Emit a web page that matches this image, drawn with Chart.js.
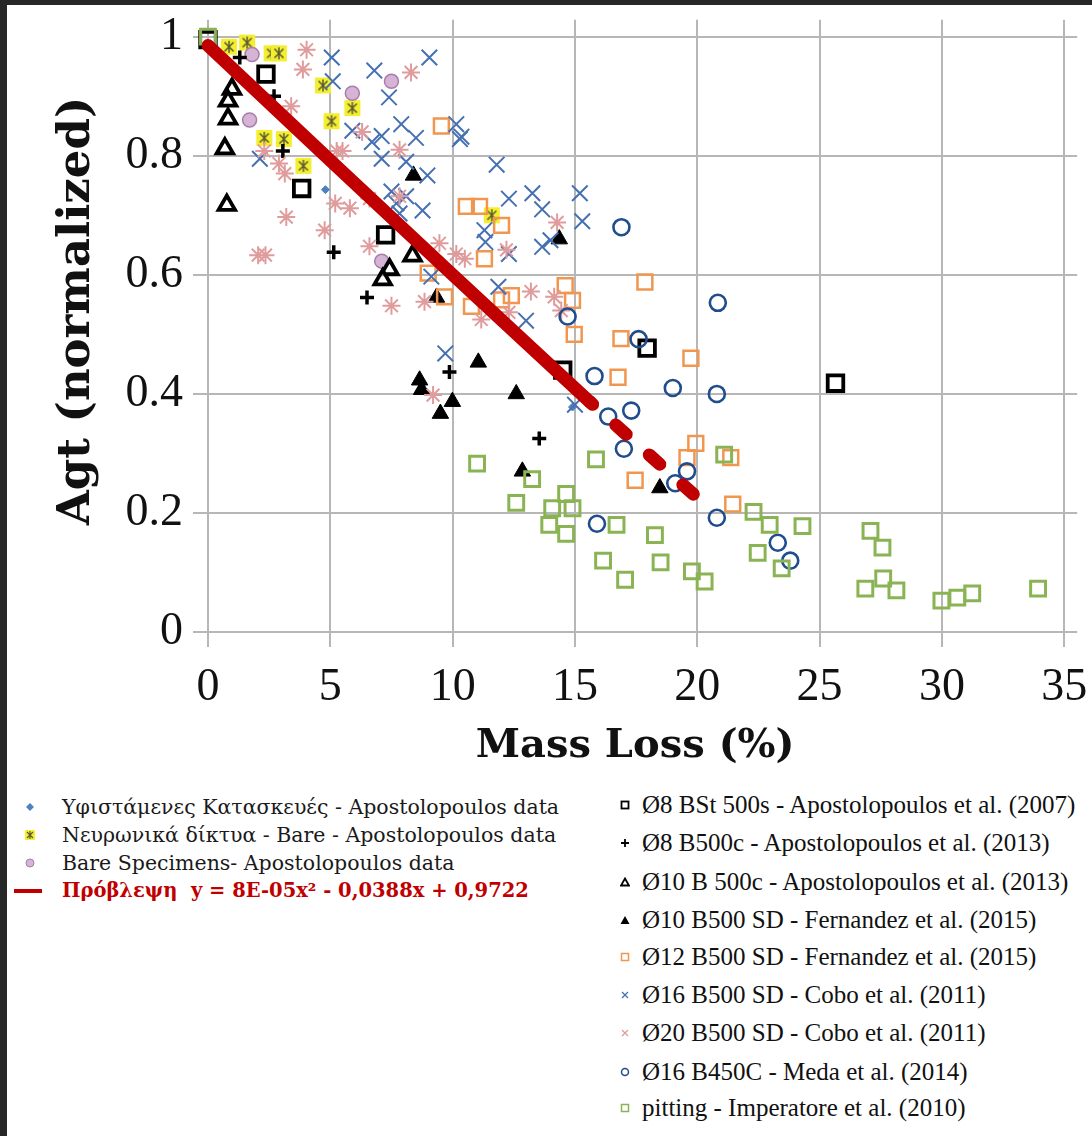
<!DOCTYPE html>
<html><head><meta charset="utf-8">
<script src="https://cdn.jsdelivr.net/npm/chart.js@4.4.1/dist/chart.umd.min.js"></script>
<style>
html,body{margin:0;padding:0;background:#272727;width:1092px;height:1136px;overflow:hidden}
#page{position:absolute;left:7px;top:5px;width:1085px;height:1131px;background:#fff}
#c{position:absolute;left:0;top:0}
.row{position:absolute;white-space:pre;height:30px;line-height:30px}
.row canvas{position:absolute;top:0}
.lt{position:absolute;top:0;white-space:pre}
.left .lt{font-family:"DejaVu Serif";font-size:20.5px;color:#1a1a1a}
.right .lt{font-family:"Liberation Serif";font-size:25px;color:#111}
.red .lt{font-family:"DejaVu Serif";font-weight:bold;font-size:19.5px;color:#c00000}
</style></head>
<body><div id="page"><canvas id="c" width="1085" height="775" style="width:1085px;height:775px"></canvas><div id="legend"></div></div>
<script>
// ---------- tick labels / titles ----------
const xTicks = [0, 5, 10, 15, 20, 25, 30, 35];
const yTicks = [0, 0.2, 0.4, 0.6, 0.8, 1];
const xTitle = 'Mass Loss (%)';
const yTitle = 'Agt (normalized)';

// ---------- series ----------
const existingX = [4.8, 14.9];
const existingY = [0.743, 0.378];

const neuralX = [0.86, 1.6, 2.6, 2.9, 4.7, 5.9, 5.05, 2.3, 3.1, 3.9, 11.6];
const neuralY = [0.983, 0.99, 0.972, 0.972, 0.918, 0.88, 0.858, 0.83, 0.828, 0.783, 0.70];

const bareX = [1.8, 7.5, 5.9, 1.7, 7.1];
const bareY = [0.97, 0.925, 0.905, 0.86, 0.623];

const fitX = [0, 5, 10, 15.6];
const fitY = [0.985, 0.792, 0.600, 0.387];
const fitDashX = [15.6, 20.1];
const fitDashY = [0.387, 0.222];

const bst2007X = [0, 2.37, 3.83, 7.26, 14.5, 17.95, 25.65];
const bst2007Y = [0.995, 0.937, 0.745, 0.667, 0.44, 0.477, 0.418];

const b8c2013X = [1.3, 2.7, 3.06, 5.14, 6.5, 9.87, 13.54];
const b8c2013Y = [0.965, 0.9, 0.808, 0.638, 0.562, 0.437, 0.325];

const b10c2013X = [0.98, 0.82, 0.82, 0.69, 0.77, 8.36, 7.42, 7.14];
const b10c2013Y = [0.912, 0.892, 0.862, 0.812, 0.717, 0.632, 0.609, 0.592];

const sd10X = [8.4, 14.36, 9.34, 11.05, 8.65, 8.73, 9.99, 9.5, 12.6, 12.85, 18.47];
const sd10Y = [0.767, 0.66, 0.562, 0.453, 0.423, 0.407, 0.387, 0.367, 0.40, 0.27, 0.242];

const sd12X = [9.54, 10.56, 11.1, 12.0, 11.3, 9.0, 9.67, 10.77, 12.0, 12.4, 14.6, 14.9, 14.97, 17.86, 16.88, 16.76, 19.74, 19.94, 19.58, 17.46, 21.37, 21.45];
const sd12Y = [0.85, 0.715, 0.715, 0.683, 0.627, 0.603, 0.563, 0.547, 0.558, 0.565, 0.582, 0.557, 0.50, 0.588, 0.493, 0.428, 0.46, 0.317, 0.293, 0.255, 0.293, 0.215];

const cobo16X = [5.06, 9.05, 6.8, 5.1, 7.4, 7.9, 5.9, 7.1, 8.5, 6.7, 10.15, 10.36, 7.1, 8.1, 2.12, 8.97, 7.5, 8.1, 8.77, 7.83, 7.7, 11.3, 11.34, 10.3, 11.8, 12.3, 13.26, 13.66, 15.2, 15.3, 14.0, 13.66, 12.3, 9.13, 11.87, 13.0, 9.7, 15.0];
const cobo16Y = [0.965, 0.965, 0.943, 0.925, 0.898, 0.853, 0.842, 0.833, 0.83, 0.823, 0.853, 0.832, 0.795, 0.79, 0.795, 0.767, 0.74, 0.732, 0.708, 0.703, 0.72, 0.675, 0.655, 0.828, 0.785, 0.728, 0.737, 0.71, 0.737, 0.69, 0.658, 0.647, 0.635, 0.597, 0.58, 0.523, 0.468, 0.382];

const cobo20X = [4.03, 3.88, 8.3, 3.4, 6.3, 5.26, 5.5, 7.83, 2.3, 2.9, 3.14, 6.6, 5.2, 5.8, 7.83, 3.2, 4.77, 6.6, 2.05, 2.35, 9.46, 10.15, 10.5, 14.27, 12.2, 8.85, 11.17, 12.3, 13.2, 14.15, 14.44, 9.2, 7.5];
const cobo20Y = [0.978, 0.945, 0.94, 0.883, 0.84, 0.808, 0.808, 0.81, 0.808, 0.787, 0.77, 0.728, 0.72, 0.712, 0.732, 0.697, 0.675, 0.648, 0.633, 0.633, 0.653, 0.635, 0.627, 0.688, 0.642, 0.555, 0.525, 0.537, 0.572, 0.563, 0.54, 0.398, 0.548];

const medaX = [16.9, 14.7, 17.6, 15.8, 19.0, 16.36, 17.3, 20.84, 20.8, 17.0, 19.58, 19.1, 15.9, 20.8, 23.29, 23.8];
const medaY = [0.68, 0.53, 0.492, 0.43, 0.41, 0.362, 0.372, 0.553, 0.40, 0.308, 0.27, 0.25, 0.182, 0.192, 0.15, 0.12];

const pittingX = [0, 11.0, 15.86, 13.25, 12.6, 14.64, 14.07, 14.9, 13.95, 14.64, 16.7, 18.27, 16.15, 18.5, 17.05, 19.78, 20.3, 21.1, 22.3, 22.96, 24.3, 22.47, 23.45, 27.08, 27.57, 26.87, 27.6, 28.14, 29.98, 30.63, 31.24, 33.93];
const pittingY = [1.0, 0.283, 0.29, 0.257, 0.217, 0.232, 0.208, 0.208, 0.18, 0.165, 0.18, 0.163, 0.12, 0.117, 0.088, 0.102, 0.085, 0.298, 0.202, 0.18, 0.178, 0.133, 0.107, 0.17, 0.142, 0.073, 0.09, 0.07, 0.053, 0.058, 0.065, 0.073];

const legendLeft = [
  'Υφιστάμενες Κατασκευές - Apostolopoulos data',
  'Νευρωνικά δίκτυα - Bare - Apostolopoulos data',
  'Bare Specimens- Apostolopoulos data'
];
const legendFit = 'Πρόβλεψη  y = 8E-05x² - 0,0388x + 0,9722';
const legendRight = [
  'Ø8 BSt 500s - Apostolopoulos et al. (2007)',
  'Ø8 B500c - Apostolopoulos et al. (2013)',
  'Ø10 B 500c - Apostolopoulos et al. (2013)',
  'Ø10 B500 SD - Fernandez et al. (2015)',
  'Ø12 B500 SD - Fernandez et al. (2015)',
  'Ø16 B500 SD - Cobo et al. (2011)',
  'Ø20 B500 SD - Cobo et al. (2011)',
  'Ø16 B450C - Meda et al. (2014)',
  'pitting - Imperatore et al. (2010)'
];

// ---------- helpers ----------
const zip = (xs, ys) => xs.map((x, i) => ({x: x, y: ys[i]}));
function mk(w, h, draw) { const c = document.createElement('canvas'); c.width = w; c.height = h; draw(c.getContext('2d'), w, h); return c; }

const YELLOW = '#f3ee2e', BLUE_X = '#4570b2', PINK = '#e09c9c', ORANGE = '#f1964f', NAVY = '#1f4d8e', GREEN = '#8ab453', RED = '#c00000', GRID = '#b7b7b7';

const neuralImg = mk(18, 18, (g) => {
  g.fillStyle = YELLOW; g.fillRect(1, 1, 16, 16);
  g.strokeStyle = '#5b5a35'; g.lineWidth = 1.5; g.beginPath();
  g.moveTo(9, 3); g.lineTo(9, 15); g.moveTo(4.5, 4.5); g.lineTo(13.5, 13.5); g.moveTo(13.5, 4.5); g.lineTo(4.5, 13.5); g.stroke();
});

function sc(label, xs, ys, st, order) {
  return Object.assign({label: label, data: zip(xs, ys), showLine: false, order: order, pointHoverRadius: 0}, st);
}

const datasets = [
  {label: 'fit', data: zip(fitX, fitY), showLine: true, borderColor: RED, borderWidth: 13, borderCapStyle: 'round', pointRadius: 0, order: 0, fill: false},
  {label: 'fitDash', data: zip(fitDashX, fitDashY), showLine: true, borderColor: RED, borderWidth: 13, borderCapStyle: 'round', borderDash: [14, 31], borderDashOffset: 10, pointRadius: 0, order: 0, fill: false},
  sc('pitting', pittingX, pittingY, {pointStyle: 'rect', pointRadius: 10.5, pointBorderWidth: 3, pointBorderColor: GREEN, pointBackgroundColor: 'rgba(0,0,0,0)'}, 1),
  sc('meda', medaX, medaY, {pointStyle: 'circle', pointRadius: 8, pointBorderWidth: 2.6, pointBorderColor: NAVY, pointBackgroundColor: 'rgba(0,0,0,0)'}, 2),
  sc('cobo20', cobo20X, cobo20Y, {pointStyle: 'star', pointRadius: 9, pointBorderWidth: 2, pointBorderColor: PINK, pointBackgroundColor: PINK}, 3),
  sc('cobo16', cobo16X, cobo16Y, {pointStyle: 'crossRot', pointRadius: 11, pointBorderWidth: 2, pointBorderColor: BLUE_X, pointBackgroundColor: BLUE_X}, 4),
  sc('sd12', sd12X, sd12Y, {pointStyle: 'rect', pointRadius: 10.5, pointBorderWidth: 2.5, pointBorderColor: ORANGE, pointBackgroundColor: 'rgba(0,0,0,0)'}, 5),
  sc('sd10', sd10X, sd10Y, {pointStyle: 'triangle', pointRadius: 9.5, pointBorderWidth: 1, pointBorderColor: '#000', pointBackgroundColor: '#000'}, 6),
  sc('b10c', b10c2013X, b10c2013Y, {pointStyle: 'triangle', pointRadius: 9.5, pointBorderWidth: 3.8, pointBorderColor: '#000', pointBackgroundColor: 'rgba(255,255,255,0.6)'}, 7),
  sc('b8c', b8c2013X, b8c2013Y, {pointStyle: 'cross', pointRadius: 7, pointBorderWidth: 3.5, pointBorderColor: '#000', pointBackgroundColor: '#000'}, 8),
  sc('bst', bst2007X, bst2007Y, {pointStyle: 'rect', pointRadius: 11, pointBorderWidth: 3.8, pointBorderColor: '#000', pointBackgroundColor: 'rgba(0,0,0,0)'}, 9),
  sc('bare', bareX, bareY, {pointStyle: 'circle', pointRadius: 7, pointBorderWidth: 1.5, pointBorderColor: '#a97ca9', pointBackgroundColor: '#d6b4d6'}, 10),
  sc('neural', neuralX, neuralY, {pointStyle: neuralImg, pointRadius: 9}, 11),
  sc('existing', existingX, existingY, {pointStyle: 'rectRot', pointRadius: 4, pointBorderWidth: 1, pointBorderColor: '#4f81bd', pointBackgroundColor: '#4f81bd'}, 12)
];

const zeroPad = (s) => { s.paddingLeft = 0; s.paddingRight = 0; s.paddingTop = 0; s.paddingBottom = 0; };

// y-axis title drawn at the reference position
const yTitlePlugin = {
  id: 'yTitle',
  afterDraw(chart) {
    const g = chart.ctx; g.save();
    g.translate(70, 306); g.rotate(-Math.PI / 2);
    g.font = 'bold 45px "DejaVu Serif"'; g.fillStyle = '#111'; g.textAlign = 'center'; g.textBaseline = 'middle';
    g.fillText(yTitle, 0, 0); g.restore();
  }
};

new Chart(document.getElementById('c'), {
  type: 'scatter',
  data: {datasets: datasets},
  plugins: [yTitlePlugin],
  options: {
    responsive: false, animation: false, devicePixelRatio: 1,
    layout: {padding: {left: 0, top: 10, right: 14, bottom: 0}},
    plugins: {legend: {display: false}, tooltip: {enabled: false}},
    events: [],
    scales: {
      x: {
        type: 'linear', min: -0.6127, max: 35.53,
        afterBuildTicks: (s) => { s.ticks = xTicks.map(v => ({value: v})); },
        afterFit: (s) => { s.height = 133; zeroPad(s); },
        grid: {color: GRID, lineWidth: 2, drawTicks: false},
        border: {display: false},
        ticks: {font: {family: 'Liberation Serif', size: 46}, color: '#111', padding: 13, autoSkip: false, maxRotation: 0, callback: (v) => String(v)},
        title: {display: true, text: xTitle, font: {family: 'DejaVu Serif', weight: 'bold', size: 40}, color: '#111', padding: {top: 0, bottom: 9}}
      },
      y: {
        type: 'linear', min: -0.025, max: 1.0283,
        afterBuildTicks: (s) => { s.ticks = yTicks.map(v => ({value: v})); },
        afterFit: (s) => { s.width = 186; zeroPad(s); },
        grid: {color: GRID, lineWidth: 2, drawTicks: false},
        border: {display: false},
        ticks: {font: {family: 'Liberation Serif', size: 46}, color: '#111', padding: 10, autoSkip: false, callback: (v) => String(v)},
        title: {display: false, text: yTitle}
      }
    }
  }
});

// ---------- HTML legend ----------
const lg = document.getElementById('legend');
function row(cls, cy, mx, tx, text, drawMarker, mw, mh) {
  const d = document.createElement('div'); d.className = 'row ' + cls; d.style.left = '0px'; d.style.top = (cy - 5 - 15) + 'px';
  const c = mk(mw, mh, drawMarker); c.style.left = (mx - 7 - mw / 2) + 'px'; c.style.top = (15 - mh / 2) + 'px';
  const s = document.createElement('span'); s.className = 'lt'; s.textContent = text; s.style.left = (tx - 7) + 'px';
  d.appendChild(c); d.appendChild(s); lg.appendChild(d);
}
// left column
row('left', 807, 30, 62, legendLeft[0], (g) => { g.fillStyle = '#4f81bd'; g.beginPath(); g.moveTo(5, 1); g.lineTo(9, 5); g.lineTo(5, 9); g.lineTo(1, 5); g.closePath(); g.fill(); }, 10, 10);
row('left', 835, 30, 62, legendLeft[1], (g) => { g.fillStyle = YELLOW; g.fillRect(0, 0, 10, 10); g.strokeStyle = '#5b5a35'; g.lineWidth = 1.2; g.beginPath(); g.moveTo(5, 1); g.lineTo(5, 9); g.moveTo(2, 2); g.lineTo(8, 8); g.moveTo(8, 2); g.lineTo(2, 8); g.stroke(); }, 10, 10);
row('left', 863, 30, 62, legendLeft[2], (g) => { g.fillStyle = '#d6b4d6'; g.strokeStyle = '#a97ca9'; g.lineWidth = 1; g.beginPath(); g.arc(5, 5, 4, 0, Math.PI * 2); g.fill(); g.stroke(); }, 10, 10);
row('red', 891, 28, 62, legendFit, (g) => { g.fillStyle = RED; g.fillRect(0, 2, 28, 4); }, 28, 8);
// right column
const rys = [805, 843, 882, 920, 957, 995, 1033, 1072, 1108];
const rDraw = [
  (g) => { g.strokeStyle = '#000'; g.lineWidth = 1.8; g.strokeRect(1.5, 1.5, 7, 7); },
  (g) => { g.strokeStyle = '#000'; g.lineWidth = 1.8; g.beginPath(); g.moveTo(5, 1); g.lineTo(5, 9); g.moveTo(1, 5); g.lineTo(9, 5); g.stroke(); },
  (g) => { g.strokeStyle = '#000'; g.lineWidth = 1.8; g.beginPath(); g.moveTo(5, 1.5); g.lineTo(9, 8.5); g.lineTo(1, 8.5); g.closePath(); g.stroke(); },
  (g) => { g.fillStyle = '#000'; g.beginPath(); g.moveTo(5, 1); g.lineTo(9.5, 9); g.lineTo(0.5, 9); g.closePath(); g.fill(); },
  (g) => { g.strokeStyle = ORANGE; g.lineWidth = 1.5; g.strokeRect(1.5, 1.5, 7, 7); },
  (g) => { g.strokeStyle = BLUE_X; g.lineWidth = 1.3; g.beginPath(); g.moveTo(2, 2); g.lineTo(8, 8); g.moveTo(8, 2); g.lineTo(2, 8); g.stroke(); },
  (g) => { g.strokeStyle = PINK; g.lineWidth = 1.3; g.beginPath(); g.moveTo(2, 2); g.lineTo(8, 8); g.moveTo(8, 2); g.lineTo(2, 8); g.stroke(); },
  (g) => { g.strokeStyle = NAVY; g.lineWidth = 1.5; g.beginPath(); g.arc(5, 5, 3.5, 0, Math.PI * 2); g.stroke(); },
  (g) => { g.strokeStyle = GREEN; g.lineWidth = 1.5; g.strokeRect(1.5, 1.5, 7, 7); }
];
legendRight.forEach((t, i) => row('right', rys[i], 625, 642, t, rDraw[i], 10, 10));
</script>
</body></html>
